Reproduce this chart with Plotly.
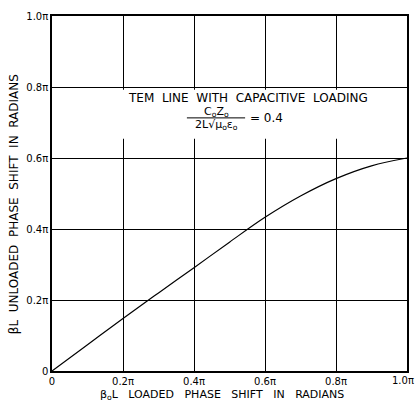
import plotly.graph_objects as go

# Loaded phase shift (units of pi) and unloaded phase shift (units of pi)
loaded = [0.0, 0.1, 0.2, 0.3, 0.4, 0.5, 0.6, 0.7, 0.8, 0.9, 1.0]
unloaded = [0.0, 0.074, 0.148, 0.220, 0.291, 0.363, 0.433, 0.493, 0.542, 0.578, 0.600]
tick_vals = [0.0, 0.2, 0.4, 0.6, 0.8, 1.0]
tick_text = ["0", "0.2π", "0.4π", "0.6π", "0.8π", "1.0π"]

FONT = "DejaVu Sans"
BLACK = "black"
fig = go.Figure()
fig.add_trace(go.Scatter(x=loaded, y=unloaded, mode="lines", line=dict(color=BLACK, width=1.2, shape="spline"),
                         showlegend=False, hoverinfo="skip"))

axis_common = dict(range=[0, 1], tickvals=tick_vals, ticktext=tick_text, showgrid=True, gridcolor=BLACK,
                   gridwidth=1, zeroline=False, showline=True, linecolor=BLACK, linewidth=1.5, mirror=True,
                   ticks="", tickfont=dict(family=FONT, size=10, color=BLACK), fixedrange=True,
                   automargin=False)

fig.update_xaxes(**axis_common)
fig.update_yaxes(**axis_common)


def note(x, y, text, size=12, xanchor="center", yanchor="middle", **kw):
    fig.add_annotation(xref="paper", yref="paper", x=x, y=y, xanchor=xanchor, yanchor=yanchor,
                       showarrow=False, text=text, font=dict(family=FONT, size=size, color=BLACK), **kw)


# right-most x tick label (clipped at the edge in the original)
note(1.0 + 9 / 355, -0.0254, tick_text[-1], size=10, xanchor="right")

note(0.48, -0.069, "β<sub>o</sub>L   LOADED   PHASE   SHIFT   IN   RADIANS", size=11)
note(-0.107, 0.47, "βL  UNLOADED  PHASE  SHIFT  IN  RADIANS", textangle=-90)

fig.add_shape(type="rect", xref="paper", yref="paper", x0=0.2, x1=0.99, y0=0.654, y1=0.792,
              fillcolor="white", line=dict(width=0), layer="above")
fig.add_shape(type="line", xref="paper", yref="paper", x0=0.380, x1=0.544, y0=0.713, y1=0.713,
              line=dict(color=BLACK, width=1), layer="above")
note(0.552, 0.768, "TEM  LINE  WITH  CAPACITIVE  LOADING")
note(0.462, 0.729, "C<sub>o</sub>Z<sub>o</sub>", size=11)
note(0.462, 0.692, "2L√μ<sub>o</sub>ε<sub>o</sub>", size=11)
note(0.552, 0.713, "= 0.4", xanchor="left")

fig.update_layout(width=417, height=402, margin=dict(l=52, r=10, t=16, b=31),
                  paper_bgcolor="white", plot_bgcolor="white")
fig.write_html("out.html", config={"displayModeBar": False},
               post_script="document.body.style.margin='0';document.body.style.overflow='hidden';")
